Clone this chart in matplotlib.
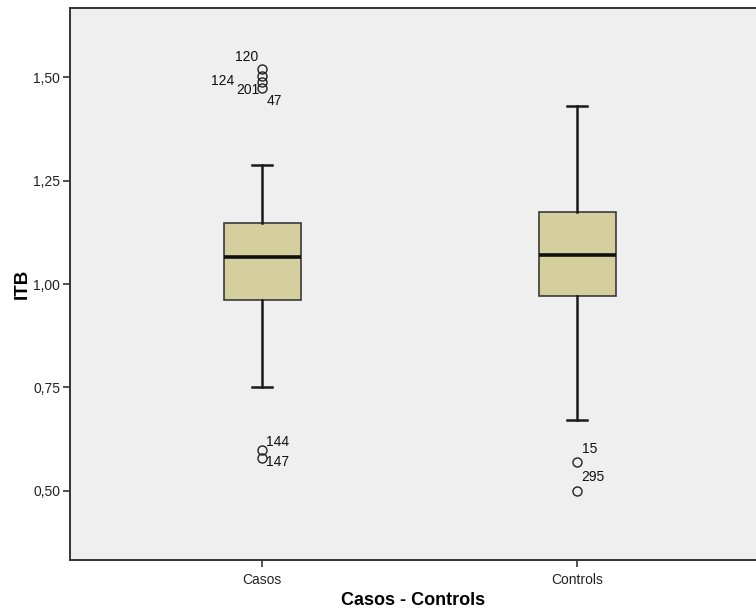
import matplotlib.pyplot as plt

# group summary values for ITB (from the SPSS boxplot)
groups = ["Casos", "Controls"]
q1 = [0.961, 0.971]
median = [1.065, 1.070]
q3 = [1.147, 1.174]
whisker_lo = [0.752, 0.671]
whisker_hi = [1.288, 1.430]

# outliers per group, with their case numbers
outlier_vals = [
    [1.519, 1.503, 1.488, 1.474, 0.599, 0.580],
    [0.570, 0.500],
]
outlier_ids = [
    ["120", "", "124", "201", "144", "147"],
    ["15", "295"],
]
# extra "47" label sits on the lowest of the upper outliers
extra_label = ("47", 0, 1.474)

yticks = [0.50, 0.75, 1.00, 1.25, 1.50]
ytick_labels = ["0,50", "0,75", "1,00", "1,25", "1,50"]

plt.rcParams["font.family"] = ["Liberation Sans", "DejaVu Sans"]

fig = plt.figure(figsize=(7.56, 6.14), dpi=100)
ax = fig.add_axes([70 / 756, 54 / 614, 1 - 70 / 756, 552 / 614])
ax.set_facecolor("#efefef")

stats = []
for i, g in enumerate(groups):
    stats.append({
        "label": g,
        "q1": q1[i], "med": median[i], "q3": q3[i],
        "whislo": whisker_lo[i], "whishi": whisker_hi[i],
        "fliers": outlier_vals[i],
    })

ax.bxp(
    stats, positions=[1, 2], widths=0.245, patch_artist=True,
    boxprops=dict(facecolor="#d4cf9c", edgecolor="#3a3a3a", linewidth=1.2),
    medianprops=dict(color="#111111", linewidth=2.6),
    whiskerprops=dict(color="#1a1a1a", linewidth=1.8),
    capprops=dict(color="#1a1a1a", linewidth=1.8),
    capwidths=0.065,
    flierprops=dict(marker="o", markersize=6.5, markerfacecolor="none",
                    markeredgecolor="#222222", markeredgewidth=1.0),
)

# pixel offsets of each case label from its circle
offsets = {
    "120": (-4, 12, "right"),
    "124": (-28, 1, "right"),
    "201": (-3, -2, "right"),
    "47": (4, -13, "left"),
    "144": (4, 8, "left"),
    "147": (4, -4, "left"),
    "15": (5, 13, "left"),
    "295": (4, 14, "left"),
}
for i, (vals, ids) in enumerate(zip(outlier_vals, outlier_ids)):
    for v, lab in zip(vals, ids):
        if not lab:
            continue
        dx, dy, ha = offsets[lab]
        ax.annotate(lab, (i + 1, v), xytext=(dx, dy), textcoords="offset pixels",
                    ha=ha, va="center", fontsize=10, color="#111111")
lab, gi, v = extra_label
dx, dy, ha = offsets[lab]
ax.annotate(lab, (gi + 1, v), xytext=(dx, dy), textcoords="offset pixels",
            ha=ha, va="center", fontsize=10, color="#111111")

ax.set_xlim(0.39, 2.568)
ax.set_ylim(0.3333, 1.6667)
ax.set_yticks(yticks, ytick_labels)
ax.set_xticks([1, 2], groups)

for side in ["left", "bottom", "top"]:
    ax.spines[side].set_color("#333333")
    ax.spines[side].set_linewidth(1.4)
ax.spines["right"].set_visible(False)
ax.tick_params(axis="both", direction="out", length=5, width=1.2,
               color="#333333", labelsize=10, labelcolor="#222222", pad=2)
ax.tick_params(axis="x", pad=4)

ax.set_ylabel("ITB", fontsize=13.5, fontweight="bold", labelpad=2)
ax.set_xlabel("Casos - Controls", fontsize=13, fontweight="bold", labelpad=4)

fig.savefig("out.png", dpi=100)
